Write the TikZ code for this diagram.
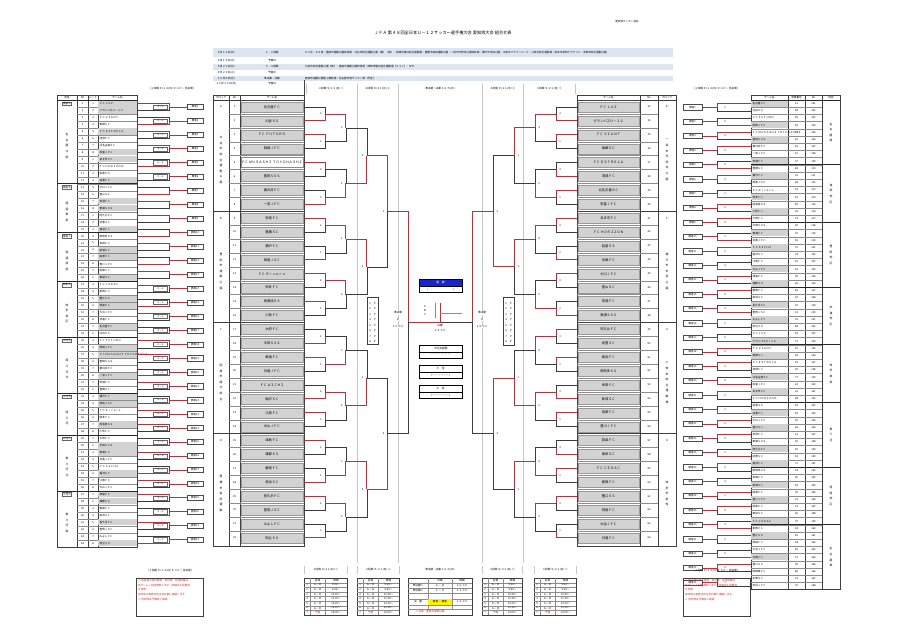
\documentclass[tikz,border=0pt]{standalone}
\usepackage{fontspec}
\setmainfont{Noto Sans CJK JP}
\definecolor{winc}{HTML}{B8323E}
\definecolor{losc}{HTML}{3C3C3C}
\definecolor{sepc}{HTML}{C6C6C6}
\definecolor{bandc}{HTML}{DCE6F1}
\definecolor{boxg}{HTML}{D2D2D2}
\definecolor{champc}{HTML}{1428D2}
\definecolor{yelc}{HTML}{FFF200}
\definecolor{notec}{HTML}{D02828}
\tikzset{
  tn/.style={inner sep=0pt,font=\fontsize{3.3}{3.3}\selectfont},
  tx/.style={inner sep=0pt,font=\fontsize{2.6}{2.6}\selectfont},
  ti/.style={inner sep=0pt,font=\fontsize{3}{3}\selectfont},
  vtx/.style={inner sep=0pt,align=center,font=\fontsize{2.8}{5.6}\selectfont},
  wl/.style={draw=winc,line width=0.75pt},
  ll/.style={draw=losc,line width=0.4pt},
  sepl/.style={draw=sepc,line width=0.6pt},
  gl/.style={draw=black!75,line width=0.4pt},
  glt/.style={draw=black!45,line width=0.25pt},
  gld/.style={draw=black!85,line width=0.7pt},
  obox/.style={draw=black!70,line width=0.35pt,fill=white,minimum width=16pt,minimum height=5.2pt,inner sep=0pt,font=\fontsize{2.5}{2.5}\selectfont},
  sbox/.style={draw=black!60,line width=0.3pt,fill=white,minimum width=14pt,minimum height=4.4pt,inner sep=0pt,font=\fontsize{2.3}{2.3}\selectfont},
  cbox/.style={draw=black,line width=0.45pt,minimum width=43pt,minimum height=6.6pt,inner sep=0pt,font=\fontsize{2.8}{2.8}\selectfont},
}
\def\namesL{名古屋ＦＣ,刈谷ＳＳ,ＦＣ ＦＵＴＵＲＯ,岡崎ＪＦＣ,ＦＣ ＭＵＳＡＳＨＩ ＴＯＹＯＨＡＳＨＩ,豊田ＳＳＳ,春日井ＦＣ,一宮ＪＦＣ,安城ＦＣ,豊橋ＳＣ,瀬戸ＦＣ,西尾ＪＳＣ,ＦＣ Ｒｉｖｅｒｓ,知多ＦＣ,尾張旭ＳＳ,小牧ＦＣ,大府ＦＣ,半田ＳＳＳ,東海ＦＣ,日進ＪＦＣ,ＦＣ ＡＩＣＨＩ,稲沢ＳＣ,江南ＦＣ,犬山ＪＦＣ,津島ＦＣ,蒲郡ＳＳ,碧南ＦＣ,高浜ＳＣ,長久手ＦＣ,豊明ＪＳＣ,みよしＦＣ,知立ＳＳ}
\def\namesR{ＦＣ ＬＵＺ,グランパスＵ－１２,ＦＣ ＶＩＡＮＴ,東郷ＳＣ,ＦＣ ＥＳＴＲＥＬＡ,清須ＦＣ,北名古屋ＳＣ,弥富ＪＦＣ,あま市ＦＣ,ＦＣ ＨＯＲＩＺＯＮ,岩倉ＳＳ,扶桑ＦＣ,大口ＪＦＣ,豊山ＳＣ,常滑ＦＣ,東浦ＳＳＳ,阿久比ＦＣ,武豊ＳＣ,美浜ＦＣ,南知多ＳＳ,幸田ＦＣ,新城ＳＣ,田原ＦＣ,豊川ＪＦＣ,設楽ＦＣ,東栄ＳＣ,ＦＣ ＣＥＤＡＣ,愛西ＦＣ,蟹江ＳＳ,飛島ＦＣ,大治ＪＦＣ,日進ＦＣ}
\newcommand\mybtab[3]{%
  \node[tx] at ({(#1+#2)/2},570) {#3};
  \draw[sepl] (#1,566) -- (#1,574);
  \draw[sepl] (#2,566) -- (#2,574);
  \draw[gl] (#1,578) rectangle (#2,615);
  \foreach \r in {1,...,7} \draw[glt] (#1,{578+4.625*\r}) -- (#2,{578+4.625*\r});
  \draw[glt] ({#1+6},578) -- ({#1+6},615);
  \draw[glt] ({#1+21},578) -- ({#1+21},615);
  \node[tx] at ({#1+13.5},580.3) {会場};
  \node[tx] at ({(#1+21+#2)/2},580.3) {時間};
  \foreach \r/\tm in {1/9:00,2/9:50,3/10:40,4/11:30,5/12:20,6/13:10,7/14:00} {
    \pgfmathsetmacro\yy{578+4.625*\r+2.31}
    \node[tx] at ({#1+3},\yy) {\r};
    \ifnum\r=7 \node[tx,text=notec] at ({#1+13.5},\yy) {予備};
    \else \node[tx] at ({#1+13.5},\yy) {Ａ－Ｂ};\fi
    \node[tx] at ({(#1+21+#2)/2},\yy) {\tm～};
  }
}
\begin{document}
\begin{tikzpicture}[x=1pt,y=-1pt]
\fill[white] (0,0) rectangle (900,636);
\useasboundingbox (0,0) rectangle (900,636);

% ---------- header ----------
\node[tx] (ref) at (627,22) {愛知県サッカー協会};
\node[inner sep=0pt,font=\fontsize{4.2}{4.2}\selectfont] (title) at (443,33) {ＪＦＡ 第４８回全日本Ｕ－１２サッカー選手権大会 愛知県大会 組合せ表};
\fill[bandc] (213,48) rectangle (673,57);
\fill[bandc] (213,64) rectangle (673,70);
\fill[bandc] (213,76) rectangle (673,81);
\foreach \yy/\a/\b in {52.5/９月１４日(日)/１・２回戦,60.5/９月１５日(月)/予備日,67/９月２１日(日)/３・４回戦,73/９月２３日(火)/予備日,78.5/１０月５日(日)/準決勝・決勝,83.5/１０月１３日(月)/予備日}
  {\node[tx] at (226,\yy) {\a}; \node[tx] at (272,\yy) {\b};}
\node[tx,anchor=west] (info1) at (305,52.5) {ＤＳ北・ＤＳ南：豊田市運動公園球技場・刈谷市総合運動公園（東）（西）・岡崎市龍北総合運動場・豊橋市岩田運動公園・一宮市光明寺公園球技場・瀬戸市市民公園・江南市フラワーパーク・小牧市総合運動場・知多市新知グラウンド・安城市総合運動公園};
\node[tx,anchor=west] (info3) at (305,67) {刈谷市総合運動公園（東）・豊田市運動公園球技場・岡崎市龍北総合運動場（メイン）・ほか};
\node[tx,anchor=west] (info5) at (305,78.5) {豊田市運動公園陸上競技場・名古屋市港サッカー場（予定）};
\draw[gl] (304,80) -- (304,95);

% ---------- column headers ----------
\foreach \x in {357,398,482,523} \draw[sepl] (\x,84) -- (\x,563);
\draw[sepl] (306,84) -- (306,94);
\draw[sepl] (575,84) -- (575,94);
\node[tx] (h1) at (331,89) {３回戦 ９/２１(日) ①};
\node[tx] (h2) at (377.5,89) {４回戦 ９/２１(日) ②};
\node[tx] (h3) at (440,89) {準決勝・決勝 １０/５(日)};
\node[tx] (h4) at (502.5,89) {４回戦 ９/２１(日) ②};
\node[tx] (h5) at (549,89) {３回戦 ９/２１(日) ①};
\node[tx] (hl) at (172,89) {［１回戦 ９/１４(日) ９:３０～ 各会場］};
\node[tx] (hr) at (716,89) {［１回戦 ９/１４(日) ９:３０～ 各会場］};

% ---------- centre-left list ----------
\draw[gl] (213,95) rectangle (304,545.8);
\draw[gl] (213,100) -- (304,100);
\draw[gl] (229,95) -- (229,545.8);
\draw[gl] (240,95) -- (240,545.8);
\node[tx] (hLb) at (221,97.6) {ブロック};
\node[tx] (hLn) at (234.5,97.6) {No};
\node[tx] (hLt) at (272,97.6) {チーム名};
\foreach \r in {1,...,31} \draw[glt] (229,{100+13.9*\r}) -- (304,{100+13.9*\r});
\foreach \r in {8,16,24} \draw[gl] (213,{100+13.9*\r}) -- (304,{100+13.9*\r});
\foreach \nm [count=\i from 0] in \namesL {
  \pgfmathsetmacro\yc{106.95+13.9*\i}
  \pgfmathtruncatemacro\no{\i+1}
  \ifnum\i=4 \draw[glt] (240.8,\yc-5) rectangle (303.2,\yc+5);
  \else \filldraw[fill=boxg,draw=black!40,line width=0.25pt] (240.8,\yc-5) rectangle (303.2,\yc+5);\fi
  \node[tn] (tL\i) at (272,\yc) {\nm};
  \node[tx] (nL\i) at (234.5,\yc) {\no};
}
\foreach \g/\lab/\vt in {0/Ａ/刈\\谷\\市\\総\\合\\運\\動\\公\\園,1/Ｂ/豊\\田\\市\\運\\動\\公\\園,2/Ｃ/岡\\崎\\市\\龍\\北\\総\\合,3/Ｄ/豊\\橋\\市\\岩\\田\\運\\動}
{
  \node[tx] (gL\g) at (221,{106.95+111.2*\g}) {\lab};
  \node[vtx] (vL\g) at (221,{100+111.2*\g+60}) {\vt};
}

% ---------- centre-right list ----------
\draw[gl] (577,95) rectangle (676,545.8);
\draw[gl] (577,100) -- (676,100);
\draw[gl] (640,95) -- (640,545.8);
\draw[gl] (658,95) -- (658,545.8);
\node[tx] (hRt) at (608.5,97.6) {チーム名};
\node[tx] (hRn) at (649,97.6) {No};
\node[tx] (hRb) at (667,97.6) {ブロック};
\foreach \r in {1,...,31} \draw[glt] (577,{100+13.9*\r}) -- (658,{100+13.9*\r});
\foreach \r in {8,16,24} \draw[gl] (577,{100+13.9*\r}) -- (676,{100+13.9*\r});
\foreach \nm [count=\i from 0] in \namesR {
  \pgfmathsetmacro\yc{106.95+13.9*\i}
  \pgfmathtruncatemacro\no{\i+33}
  \filldraw[fill=boxg,draw=black!40,line width=0.25pt] (577.8,\yc-5) rectangle (639.2,\yc+5);
  \node[tn] (tR\i) at (608.5,\yc) {\nm};
  \node[tx] (nR\i) at (649,\yc) {\no};
}
\foreach \g/\lab/\vt in {0/Ｅ/一\\宮\\市\\光\\明\\寺\\公\\園,1/Ｆ/瀬\\戸\\市\\市\\民\\公\\園,2/Ｇ/小\\牧\\市\\総\\合\\運\\動\\場,3/Ｈ/知\\多\\市\\新\\知}
{
  \node[tx] (gR\g) at (667,{106.95+111.2*\g}) {\lab};
  \node[vtx] (vR\g) at (667,{100+111.2*\g+60}) {\vt};
}

% ---------- centre brackets ----------
\foreach \L in {1,...,5} {
  \pgfmathtruncatemacro\nmax{32/(2^\L)-1}
  \pgfmathsetmacro\s{2^(\L-1)}
  \pgfmathsetmacro\xp{304+20.9*(\L-1)}
  \pgfmathsetmacro\xc{304+20.9*\L}
  \pgfmathsetmacro\xq{577-20.9*(\L-1)}
  \pgfmathsetmacro\xd{577-20.9*\L}
  \foreach \j in {0,...,\nmax} {
    \pgfmathsetmacro\ya{106.95+13.9*(2*\j*\s+(\s-1)/2)}
    \pgfmathsetmacro\yb{\ya+13.9*\s}
    \pgfmathsetmacro\ym{(\ya+\yb)/2}
    \pgfmathtruncatemacro\w{mod(\j*7+\L*3,5)<3}
    \pgfmathtruncatemacro\v{mod(\j*3+\L*2+1,5)<3}
    \pgfmathtruncatemacro\sc{mod(\j*3+\L,4)+1}
    \pgfmathtruncatemacro\sd{mod(\j*2+\L+1,4)+1}
    \ifnum\w=1
      \draw[ll] (\xp,\yb) -| (\xc,\ym);
      \draw[wl] (\xp,\ya) -| (\xc,\ym);
    \else
      \draw[ll] (\xp,\ya) -| (\xc,\ym);
      \draw[wl] (\xp,\yb) -| (\xc,\ym);
    \fi
    \ifnum\v=1
      \draw[ll] (\xq,\yb) -| (\xd,\ym);
      \draw[wl] (\xq,\ya) -| (\xd,\ym);
    \else
      \draw[ll] (\xq,\ya) -| (\xd,\ym);
      \draw[wl] (\xq,\yb) -| (\xd,\ym);
    \fi
    \ifnum\L<5
      \node[tx] at (\xc-4,\ym) {\sc};
      \node[tx] at (\xd+4,\ym) {\sd};
    \fi
  }
}

% ---------- final ----------
\draw[ll] (440,322.5) -- (472.5,322.5);
\draw[wl] (408.5,322.5) -- (440,322.5) -- (440,303);
\draw[glt] (435,303) -- (435,318);
\draw[glt] (440,313) -- (462,313);
\node[tx] (fa) at (425,307) {Ａ};
\node[tx] (fb) at (425,311) {Ｂ};
\node[tx] (fc) at (425,315) {Ｃ};
\node[cbox,fill=champc,text=white] (champ) at (440.5,282.6) {優　勝};
\node[cbox,fill=white] (champn) at (440.5,289.2) {（　　　　　　　　　）};
\node[tx] (fin1) at (440,326) {決勝};
\node[tx] (fin2) at (440,331) {１３:００};
\foreach \xx in {398,482} {
  \node[tx,fill=white,inner sep=0.3pt] at (\xx,313) {準決勝};
  \node[tx,fill=white,inner sep=0.3pt] at (\xx,320) {Ａ};
  \node[tx,fill=white,inner sep=0.3pt] at (\xx,327) {１０:００};
}
\node[cbox,fill=white] (b1a) at (440.5,348.5) {３位決定戦};
\node[cbox,fill=white] (b1b) at (440.5,355.1) {－ － － － － －};
\node[cbox,fill=white] (b2a) at (440.5,368.5) {３　位};
\node[cbox,fill=white] (b2b) at (440.5,375.1) {（－－－－－－）};
\node[cbox,fill=white] (b3a) at (440.5,388.5) {４　位};
\node[cbox,fill=white] (b3b) at (440.5,395.1) {（－－－－－－）};
% legend boxes
\draw[gl,line width=0.5pt] (367,297) rectangle (378,344);
\draw[gl,line width=0.5pt] (503,297) rectangle (514,345);
\foreach \r in {1,...,8} {
  \node[tx] at (370,{298+5.5*\r}) {\r};
  \node[tx] at (375,{298+5.5*\r}) {Ｐ};
  \node[tx] at (506,{298+5.5*\r}) {\r};
  \node[tx] at (511,{298+5.5*\r}) {Ｐ};
}

% ---------- left outer table ----------
\draw[gl] (57,95) rectangle (137,546.7);
\draw[gl] (57,100) -- (137,100);
\foreach \x in {77,88,98} \draw[gl] (\x,95) -- (\x,546.7);
\node[tx] at (67,97.6) {地区};
\node[tx] at (82.5,97.6) {No};
\node[tx] at (93,97.6) {シード};
\node[tx] at (117.5,97.6) {チーム名};
\foreach \r in {1,...,63} \draw[glt] (77,{100+6.98*\r}) -- (137,{100+6.98*\r});
\foreach \nm [count=\i from 0] in \namesR {
  \pgfmathsetmacro\yc{103.49+6.98*\i}
  \pgfmathtruncatemacro\g{mod(\i*5+2,7)<3}
  \ifnum\g=1 \fill[boxg] (98.4,\yc-3.1) rectangle (136.6,\yc+3.1);\fi
  \pgfmathtruncatemacro\no{\i+1}
  \pgfmathtruncatemacro\sd{mod(\i,8)+1}
  \node[tx,anchor=west] (lo\i) at (99.5,\yc) {\nm};
  \node[tx] at (82.5,\yc) {\no};
  \node[tx] at (93,\yc) {\sd};
}
\foreach \nm [count=\i from 32] in \namesL {
  \pgfmathsetmacro\yc{103.49+6.98*\i}
  \pgfmathtruncatemacro\g{mod(\i*5+2,7)<3}
  \ifnum\g=1 \fill[boxg] (98.4,\yc-3.1) rectangle (136.6,\yc+3.1);\fi
  \pgfmathtruncatemacro\no{\i+1}
  \pgfmathtruncatemacro\sd{mod(\i,8)+1}
  \node[tx,anchor=west] (lo\i) at (99.5,\yc) {\nm};
  \node[tx] at (82.5,\yc) {\no};
  \node[tx] at (93,\yc) {\sd};
}
\foreach \s/\e/\lab/\vt in {0/12/尾張Ａ/名\\古\\屋\\北\\部,12/19/尾張Ｂ/尾\\張\\東\\部,19/26/尾張Ｃ/尾\\張\\西\\部,26/34/知多Ａ/知\\多\\地\\区,34/42/三河Ａ/西\\三\\河\\北,42/48/三河Ｂ/西\\三\\河,48/56/三河Ｃ/東\\三\\河\\北,56/64/三河Ｄ/東\\三\\河\\南}
{
  \draw[gld] (57,{100+6.98*\s}) -- (137,{100+6.98*\s});
  \node[tx,draw=black!60,line width=0.25pt,inner sep=0.6pt] at (67,{103.49+6.98*\s}) {\lab};
  \node[vtx] at (67,{100+6.98*(\s+\e)/2+4}) {\vt};
}

% ---------- left outer bracket ----------
\foreach \k in {0,...,31} {
  \pgfmathsetmacro\ya{103.49+13.96*\k}
  \pgfmathsetmacro\yb{\ya+6.98}
  \pgfmathsetmacro\ym{\ya+3.49}
  \pgfmathtruncatemacro\w{mod(\k*3+1,5)<3}
  \pgfmathtruncatemacro\sb{or(\k<6,\k>12)}
  \pgfmathtruncatemacro\bn{\k+1}
  \ifnum\w=1
    \draw[ll] (137,\yb) -| (169,\ym);
    \draw[wl] (137,\ya) -| (169,\ym) -- (187,\ym);
  \else
    \draw[ll] (137,\ya) -| (169,\ym);
    \draw[wl] (137,\yb) -| (169,\ym) -- (187,\ym);
  \fi
  \ifnum\sb=1 \node[sbox] (ls\k) at (160.5,\ym) {２－１};\fi
  \node[obox] (lb\k) at (195,\ym) {勝者\bn};
}

% ---------- right outer table ----------
\draw[gl] (751,95) rectangle (840,589.6);
\draw[gl] (751,100) -- (840,100);
\foreach \x in {788,805,822} \draw[gl] (\x,95) -- (\x,589.6);
\node[tx] at (769.5,97.6) {チーム名};
\node[tx] at (796.5,97.6) {登録番号};
\node[tx] at (813.5,97.6) {No};
\node[tx] at (831,97.6) {地区};
\foreach \r in {1,...,67} \draw[glt] (751,{100+7.2*\r}) -- (822,{100+7.2*\r});
\foreach \nm [count=\i from 0] in \namesL {
  \pgfmathsetmacro\yc{103.6+7.2*\i}
  \pgfmathtruncatemacro\g{mod(\i*3+1,5)<2}
  \ifnum\g=1 \fill[boxg] (751.4,\yc-3.2) rectangle (787.6,\yc+3.2);\fi
  \pgfmathtruncatemacro\no{\i+101}
  \pgfmathtruncatemacro\ca{mod(\i*37+11,90)+10}
  \node[tx,anchor=west] (ro\i) at (752.5,\yc) {\nm};
  \node[tx] at (796.5,\yc) {\ca};
  \node[tx] at (813.5,\yc) {\no};
}
\foreach \nm [count=\i from 32] in \namesR {
  \pgfmathsetmacro\yc{103.6+7.2*\i}
  \pgfmathtruncatemacro\g{mod(\i*3+1,5)<2}
  \ifnum\g=1 \fill[boxg] (751.4,\yc-3.2) rectangle (787.6,\yc+3.2);\fi
  \pgfmathtruncatemacro\no{\i+101}
  \pgfmathtruncatemacro\ca{mod(\i*37+11,90)+10}
  \node[tx,anchor=west] (ro\i) at (752.5,\yc) {\nm};
  \node[tx] at (796.5,\yc) {\ca};
  \node[tx] at (813.5,\yc) {\no};
}
\foreach \nm [count=\i from 64] in {豊川ＳＳ,岡崎南ＦＣ,名東ＳＣ,天白ＪＦＣ} {
  \pgfmathsetmacro\yc{103.6+7.2*\i}
  \pgfmathtruncatemacro\no{\i+101}
  \pgfmathtruncatemacro\ca{mod(\i*37+11,90)+10}
  \node[tx,anchor=west] (ro\i) at (752.5,\yc) {\nm};
  \node[tx] at (796.5,\yc) {\ca};
  \node[tx] at (813.5,\yc) {\no};
}
\foreach \s/\e/\vt in {0/9/名\\古\\屋\\南,9/17/海\\部\\地\\区,17/26/豊\\田\\地\\区,26/34/衣\\浦\\地\\区,34/42/知\\多\\南\\部,42/51/東\\三\\河,51/59/西\\尾\\地\\区,59/68/名\\古\\屋\\東}
{
  \draw[gld] (751,{100+7.2*\s}) -- (840,{100+7.2*\s});
  \node[vtx] at (831,{100+7.2*(\s+\e)/2}) {\vt};
}

% ---------- right outer bracket ----------
\foreach \k in {0,...,33} {
  \pgfmathsetmacro\ya{103.6+14.4*\k}
  \pgfmathsetmacro\yb{\ya+7.2}
  \pgfmathsetmacro\ym{\ya+3.6}
  \pgfmathtruncatemacro\w{mod(\k*2+1,5)<3}
  \pgfmathtruncatemacro\sc{mod(\k,3)+1}
  \pgfmathtruncatemacro\bn{\k+1}
  \ifnum\w=1
    \draw[ll] (751,\yb) -| (717,\ym);
    \draw[wl] (751,\ya) -| (717,\ym) -- (702,\ym);
  \else
    \draw[ll] (751,\ya) -| (717,\ym);
    \draw[wl] (751,\yb) -| (717,\ym) -- (702,\ym);
  \fi
  \node[tx] at (725,\ym) {\sc};
  \node[obox,minimum width=19pt] (rb\k) at (692.5,\ym) {勝者\bn};
}

% ---------- notes ----------
\node[tx] (nlh) at (170,571) {［１回戦 ９/１４(日) ９:３０～ 各会場］};
\draw[gl] (136,578) rectangle (203,616);
\node[tx,text=notec,anchor=west,align=left,font=\fontsize{2.6}{4.6}\selectfont] (nl) at (138,590) {※ 各会場の試合時間・試合順・会場詳細は\\各チームへ別途通知します。詳細は大会要項\\を参照。\\雨天時の実施可否は当日朝に連絡します。\\※ 荒天時は予備日に順延。};
\node[tx] (nrh) at (716,571) {［１回戦 ９/１４(日) ９:３０～ 各会場］};
\draw[gl] (683,578) rectangle (750,616);
\node[tx,text=notec,anchor=west,align=left,font=\fontsize{2.6}{4.6}\selectfont] (nr) at (685,590) {※ 各会場の試合時間・試合順・会場詳細は\\各チームへ別途通知します。詳細は大会要項\\を参照。\\雨天時の実施可否は当日朝に連絡します。\\※ 荒天時は予備日に順延。};

% ---------- bottom tables ----------
\mybtab{304}{347}{３回戦 ９/２１(日) ①}
\mybtab{357}{399}{４回戦 ９/２１(日) ②}
\mybtab{482}{522}{４回戦 ９/２１(日) ②}
\mybtab{534}{576}{３回戦 ９/２１(日) ①}
\node[tx] (cth) at (440,570) {準決勝・決勝 １０/５(日)};
\draw[gl] (408,578) rectangle (472,615);
\foreach \yy in {583,588,593,599,605,609} \draw[glt] (408,\yy) -- (472,\yy);
\draw[glt] (428,578) -- (428,609);
\draw[glt] (452,578) -- (452,609);
\fill[yelc] (428.3,599.3) rectangle (451.7,604.7);
\node[tx] at (440,580.5) {対戦};
\node[tx] at (462,580.5) {時間};
\node[tx] at (418,585.5) {準決勝①};
\node[tx] at (440,585.5) {Ａ － Ｂ};
\node[tx] at (462,585.5) {１０:００};
\node[tx] at (418,590.5) {準決勝②};
\node[tx] at (440,590.5) {Ｃ － Ｄ};
\node[tx] at (462,590.5) {１１:００};
\node[tx] at (418,602) {決　勝};
\node[tx] at (440,602) {勝者 － 勝者};
\node[tx] at (462,602) {１３:００};
\node[tx,text=notec] at (430,612) {※ 会場：豊田市運動公園};
\end{tikzpicture}
\end{document}
